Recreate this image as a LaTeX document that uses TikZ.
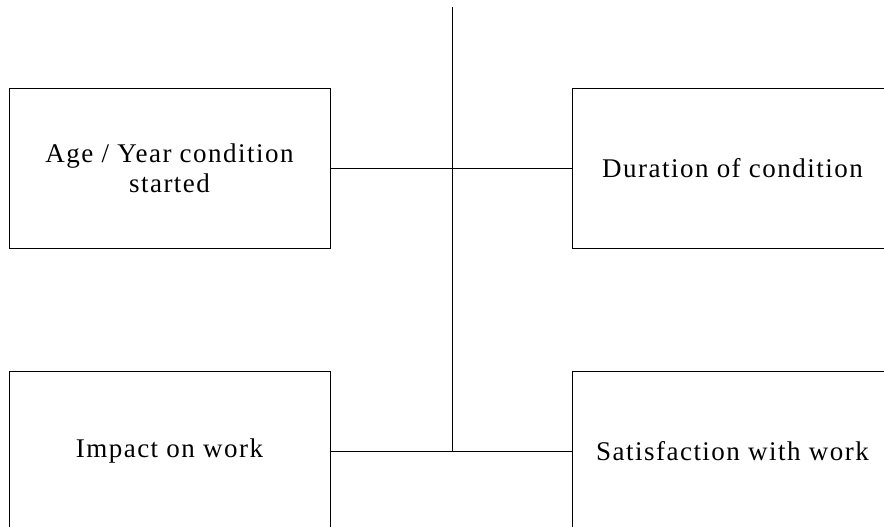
\documentclass[tikz,border=0pt]{standalone}
\usepackage{fontspec}
\setmainfont[LetterSpace=5.5]{Liberation Serif}
\begin{document}
\begin{tikzpicture}[x=1pt,y=-1pt,
  box/.style={draw=black, line width=0.9pt, rectangle, minimum width=321pt,
    minimum height=160pt, inner sep=0pt, align=center,
    font=\fontsize{27}{30}\selectfont},
  link/.style={draw=black, line width=0.9pt}]
  \useasboundingbox (0,0) rectangle (884,527);
  \clip (0,0) rectangle (884,527);
  \node[box] (age) at (169.5,168) {Age / Year condition\\started};
  \node[box] (dur) at (732.5,168) {Duration of condition};
  \node[box] (imp) at (169.5,451) {Impact on work};
  \node[box] (sat) at (732.5,451) {Satisfaction with work};
  \coordinate (top) at (452,7);
  \coordinate (bot) at (452,451);
  \draw[link] (top) -- (bot);
  \draw[link] (age.east) -- (dur.west);
  \draw[link] (imp.east) -- (sat.west);
\end{tikzpicture}
\end{document}
